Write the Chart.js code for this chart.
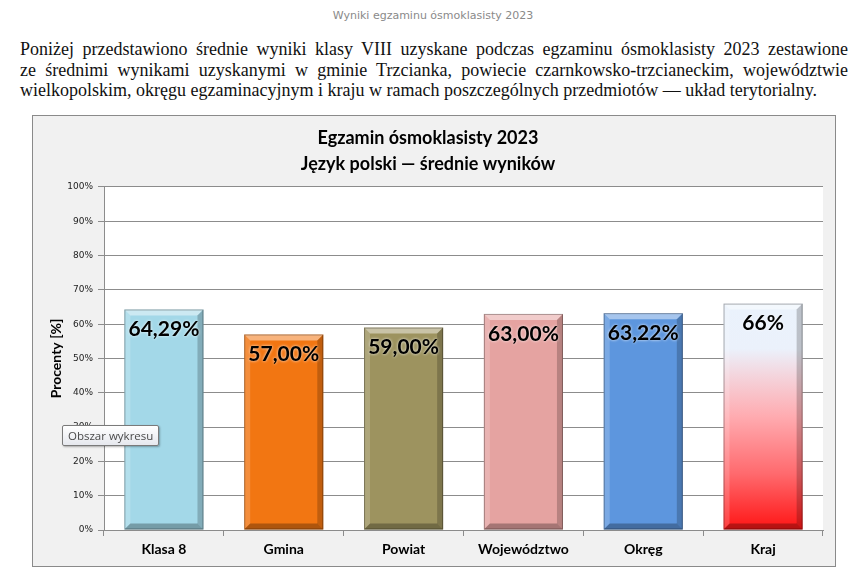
<!DOCTYPE html>
<html>
<head>
<meta charset="utf-8">
<script src="https://cdn.jsdelivr.net/npm/chart.js@4"></script>
<style>
  html, body { margin: 0; padding: 0; background: #ffffff; width: 858px; height: 583px; overflow: hidden; }
  #hdr { position: absolute; left: 0; width: 866px; top: 9px; text-align: center; font-family: "DejaVu Sans", Verdana, sans-serif; font-size: 11px; color: #8a8a8a; }
  #para { position: absolute; left: 20px; top: 39px; width: 828px; font-family: "Liberation Serif", "Times New Roman", serif; font-size: 18px; line-height: 20.5px; color: #111; }
  #para div { text-align: justify; text-align-last: justify; white-space: nowrap; }
  #para div.last { text-align-last: left; }
  #frame { position: absolute; left: 32px; top: 115px; width: 802px; height: 450px; border: 1px solid #8a8a8a; background: #f1f1f1; }
  #wrap { position: absolute; left: 0; top: 0; width: 802px; height: 450px; }
  #tip { position: absolute; left: 62px; top: 425px; width: 90px; height: 19px; border: 1px solid #7a7a7a; border-radius: 2px;
         background: linear-gradient(#ffffff, #e6e8ee); box-shadow: 1px 1px 2px rgba(0,0,0,0.3);
         font-family: "Open Sans", "Noto Sans", sans-serif; font-size: 11.5px; color: #4a4a4a; line-height: 19px; padding-left: 5px; box-sizing: content-box; }
</style>
</head>
<body>
<div id="hdr">Wyniki egzaminu ósmoklasisty 2023</div>
<div id="para">
  <div>Poniżej przedstawiono średnie wyniki klasy VIII uzyskane podczas egzaminu ósmoklasisty 2023 zestawione</div>
  <div>ze&nbsp;średnimi wynikami uzyskanymi w gminie Trzcianka, powiecie czarnkowsko-trzcianeckim, województwie</div>
  <div class="last">wielkopolskim, okręgu egzaminacyjnym i kraju w ramach poszczególnych przedmiotów — układ terytorialny.</div>
</div>
<div id="frame"><div id="wrap"><canvas id="c"></canvas></div></div>
<div id="tip">Obszar wykresu</div>
<script>
// ---- data ----
const categories = ['Klasa 8', 'Gmina', 'Powiat', 'Województwo', 'Okręg', 'Kraj'];
const values = [64.29, 57.00, 59.00, 63.00, 63.22, 66];
const valueLabels = ['64,29%', '57,00%', '59,00%', '63,00%', '63,22%', '66%'];
const yTicks = [0, 10, 20, 30, 40, 50, 60, 70, 80, 90, 100];
const barColors = ['#a3d8e8', '#f27612', '#9d935f', '#e5a3a1', '#5d96de', null];
const chartTitle = ['Egzamin ósmoklasisty 2023', 'Język polski — średnie wyników'];
const yTitle = 'Procenty [%]';

function krajGradient(ctx) {
  const chart = ctx.chart;
  const ys = chart.scales.y;
  if (!ys || !chart.chartArea) return '#ff6060';
  const top = ys.getPixelForValue(values[ctx.dataIndex]);
  const bot = ys.getPixelForValue(0);
  const g = chart.ctx.createLinearGradient(0, top, 0, bot);
  g.addColorStop(0, '#eaf2fc');
  g.addColorStop(0.2, '#ebf1fb');
  g.addColorStop(0.32, '#f4d4dc');
  g.addColorStop(0.5, '#ffabb0');
  g.addColorStop(0.75, '#ff6a6e');
  g.addColorStop(1, '#ff1414');
  return g;
}

const plotBg = {
  id: 'plotBg',
  beforeDraw(chart) {
    const {ctx, chartArea: a} = chart;
    ctx.save();
    ctx.fillStyle = '#ffffff';
    ctx.fillRect(a.left, a.top, a.right - a.left, a.bottom - a.top);
    ctx.restore();
  }
};

const bevel = {
  id: 'bevel',
  afterDatasetsDraw(chart) {
    const ctx = chart.ctx;
    const meta = chart.getDatasetMeta(0);
    const poly = (pts, fill) => {
      ctx.beginPath();
      ctx.moveTo(pts[0][0], pts[0][1]);
      for (let k = 1; k < pts.length; k++) ctx.lineTo(pts[k][0], pts[k][1]);
      ctx.closePath();
      ctx.fillStyle = fill;
      ctx.fill();
    };
    ctx.save();
    meta.data.forEach((bar, i) => {
      const p = bar.getProps(['x', 'y', 'base', 'width'], true);
      const l = p.x - p.width / 2, r = p.x + p.width / 2, t = p.y, b = p.base, d = 6;
      poly([[l, t], [r, t], [r - d, t + d], [l + d, t + d]], 'rgba(255,255,255,0.45)');
      poly([[l, t], [l + d, t + d], [l + d, b - d], [l, b]], 'rgba(255,255,255,0.18)');
      poly([[r, t], [r, b], [r - d, b - d], [r - d, t + d]], 'rgba(0,0,0,0.2)');
      poly([[l, b], [r, b], [r - d, b - d], [l + d, b - d]], 'rgba(0,0,0,0.28)');
      ctx.strokeStyle = 'rgba(0,0,0,0.3)';
      ctx.lineWidth = 1;
      ctx.strokeRect(l + 0.5, t + 0.5, r - l - 1, b - t - 1);
    });
    ctx.restore();
  }
};

const valueText = {
  id: 'valueText',
  afterDatasetsDraw(chart) {
    const ctx = chart.ctx;
    const meta = chart.getDatasetMeta(0);
    ctx.save();
    ctx.font = 'bold 21px Lato, "Open Sans", sans-serif';
    ctx.textAlign = 'center';
    ctx.textBaseline = 'middle';
    ctx.fillStyle = '#000000';
    ctx.shadowColor = 'rgba(255,255,255,0.9)';
    ctx.shadowBlur = 3;
    meta.data.forEach((bar, i) => {
      ctx.fillText(valueLabels[i], bar.x, bar.y + 20);
    });
    ctx.restore();
  }
};

new Chart(document.getElementById('c'), {
  type: 'bar',
  data: {
    labels: categories,
    datasets: [{
      data: values,
      backgroundColor: (ctx) => ctx.dataIndex === 5 ? krajGradient(ctx) : barColors[ctx.dataIndex],
      borderWidth: 0,
      barPercentage: 0.66,
      categoryPercentage: 1.0
    }]
  },
  options: {
    responsive: true,
    maintainAspectRatio: false,
    animation: false,
    layout: { padding: { left: 0, right: 12, top: 0, bottom: 0 } },
    plugins: {
      legend: { display: false },
      tooltip: { enabled: false },
      title: {
        display: true,
        text: chartTitle,
        color: '#000000',
        font: { family: 'Lato, "Open Sans", sans-serif', size: 18, weight: 'bold', lineHeight: 1.444 },
        padding: { top: 9, bottom: 10 }
      }
    },
    scales: {
      x: {
        grid: { display: true, drawOnChartArea: false, drawTicks: true, tickLength: 6, color: '#8c8c8c', offset: true },
        border: { display: true, color: '#8c8c8c' },
        ticks: { color: '#000000', padding: 5, font: { family: 'Lato, "Open Sans", sans-serif', size: 14, weight: 'bold' }, maxRotation: 0 },
        afterFit: (s) => { s.height = 36; }
      },
      y: {
        min: 0, max: 100,
        afterBuildTicks: (s) => { s.ticks = yTicks.map(v => ({ value: v })); },
        grid: { color: '#8c8c8c', tickLength: 6, drawTicks: true },
        border: { display: true, color: '#8c8c8c' },
        ticks: { color: '#222222', padding: 5, font: { family: '"DejaVu Sans", sans-serif', size: 9 }, callback: (v) => v + '%' },
        title: { display: true, text: yTitle, color: '#000000', font: { family: 'Lato, "Open Sans", sans-serif', size: 14, weight: 'bold' }, padding: { top: 15, bottom: 0 } },
        afterFit: (s) => { s.width = 71; }
      }
    }
  },
  plugins: [plotBg, bevel, valueText]
});
</script>
</body>
</html>
